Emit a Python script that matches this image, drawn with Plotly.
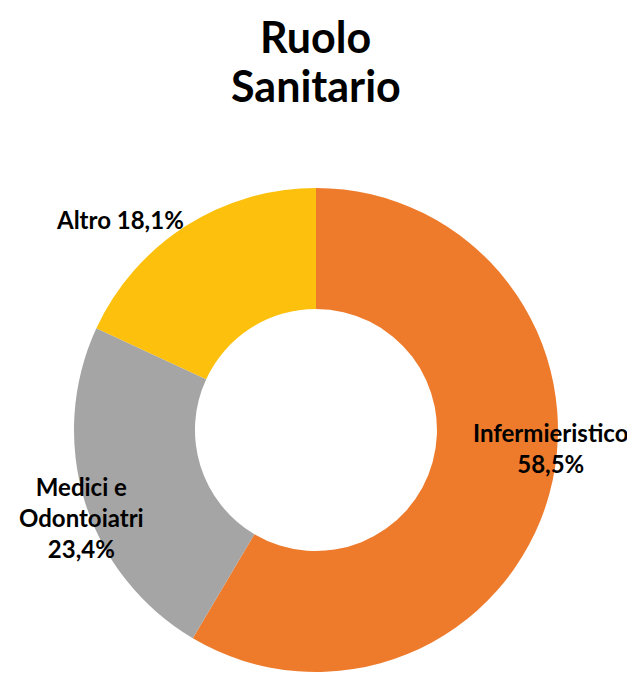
import plotly.graph_objects as go

labels = ["Infermieristico", "Medici e Odontoiatri", "Altro"]
values = [58.5, 23.4, 18.1]
label_text = ["Infermieristico<br>58,5%", "Medici e<br>Odontoiatri<br>23,4%", "Altro 18,1%"]
title_lines = ["Ruolo", "Sanitario"]
colors = ["#EE7B2C", "#A5A5A5", "#FDC00C"]

fig = go.Figure()
fig.add_trace(go.Pie(
    labels=labels, values=values,
    hole=0.5, sort=False, direction="clockwise", rotation=0,
    marker=dict(colors=colors, line=dict(width=0)),
    textinfo="none", hoverinfo="label+percent",
    domain=dict(x=[0.1039, 0.8661], y=[0.0192, 0.7341]),
    showlegend=False,
))

# label positions (paper coords)
pos = [(0.855, 0.350), (0.1165, 0.248), (0.176, 0.687)]
for txt, (x, y) in zip(label_text, pos):
    fig.add_annotation(x=x, y=y, xref="paper", yref="paper", text="<b>" + txt + "</b>",
                       showarrow=False, align="center", xanchor="center", yanchor="middle",
                       font=dict(family="Lato", size=24, color="#000000"))

# title, one annotation per line
for line, y in zip(title_lines, [0.958, 0.8848]):
    fig.add_annotation(x=0.485, y=y, xref="paper", yref="paper",
                       text="<b>" + line + "</b>", showarrow=False,
                       xanchor="center", yanchor="middle", borderpad=0,
                       font=dict(family="Lato", size=43, color="#000000"))

fig.update_layout(
    width=635, height=677,
    margin=dict(l=0, r=0, t=0, b=0),
    paper_bgcolor="white",
)
fig.write_html("out.html")
